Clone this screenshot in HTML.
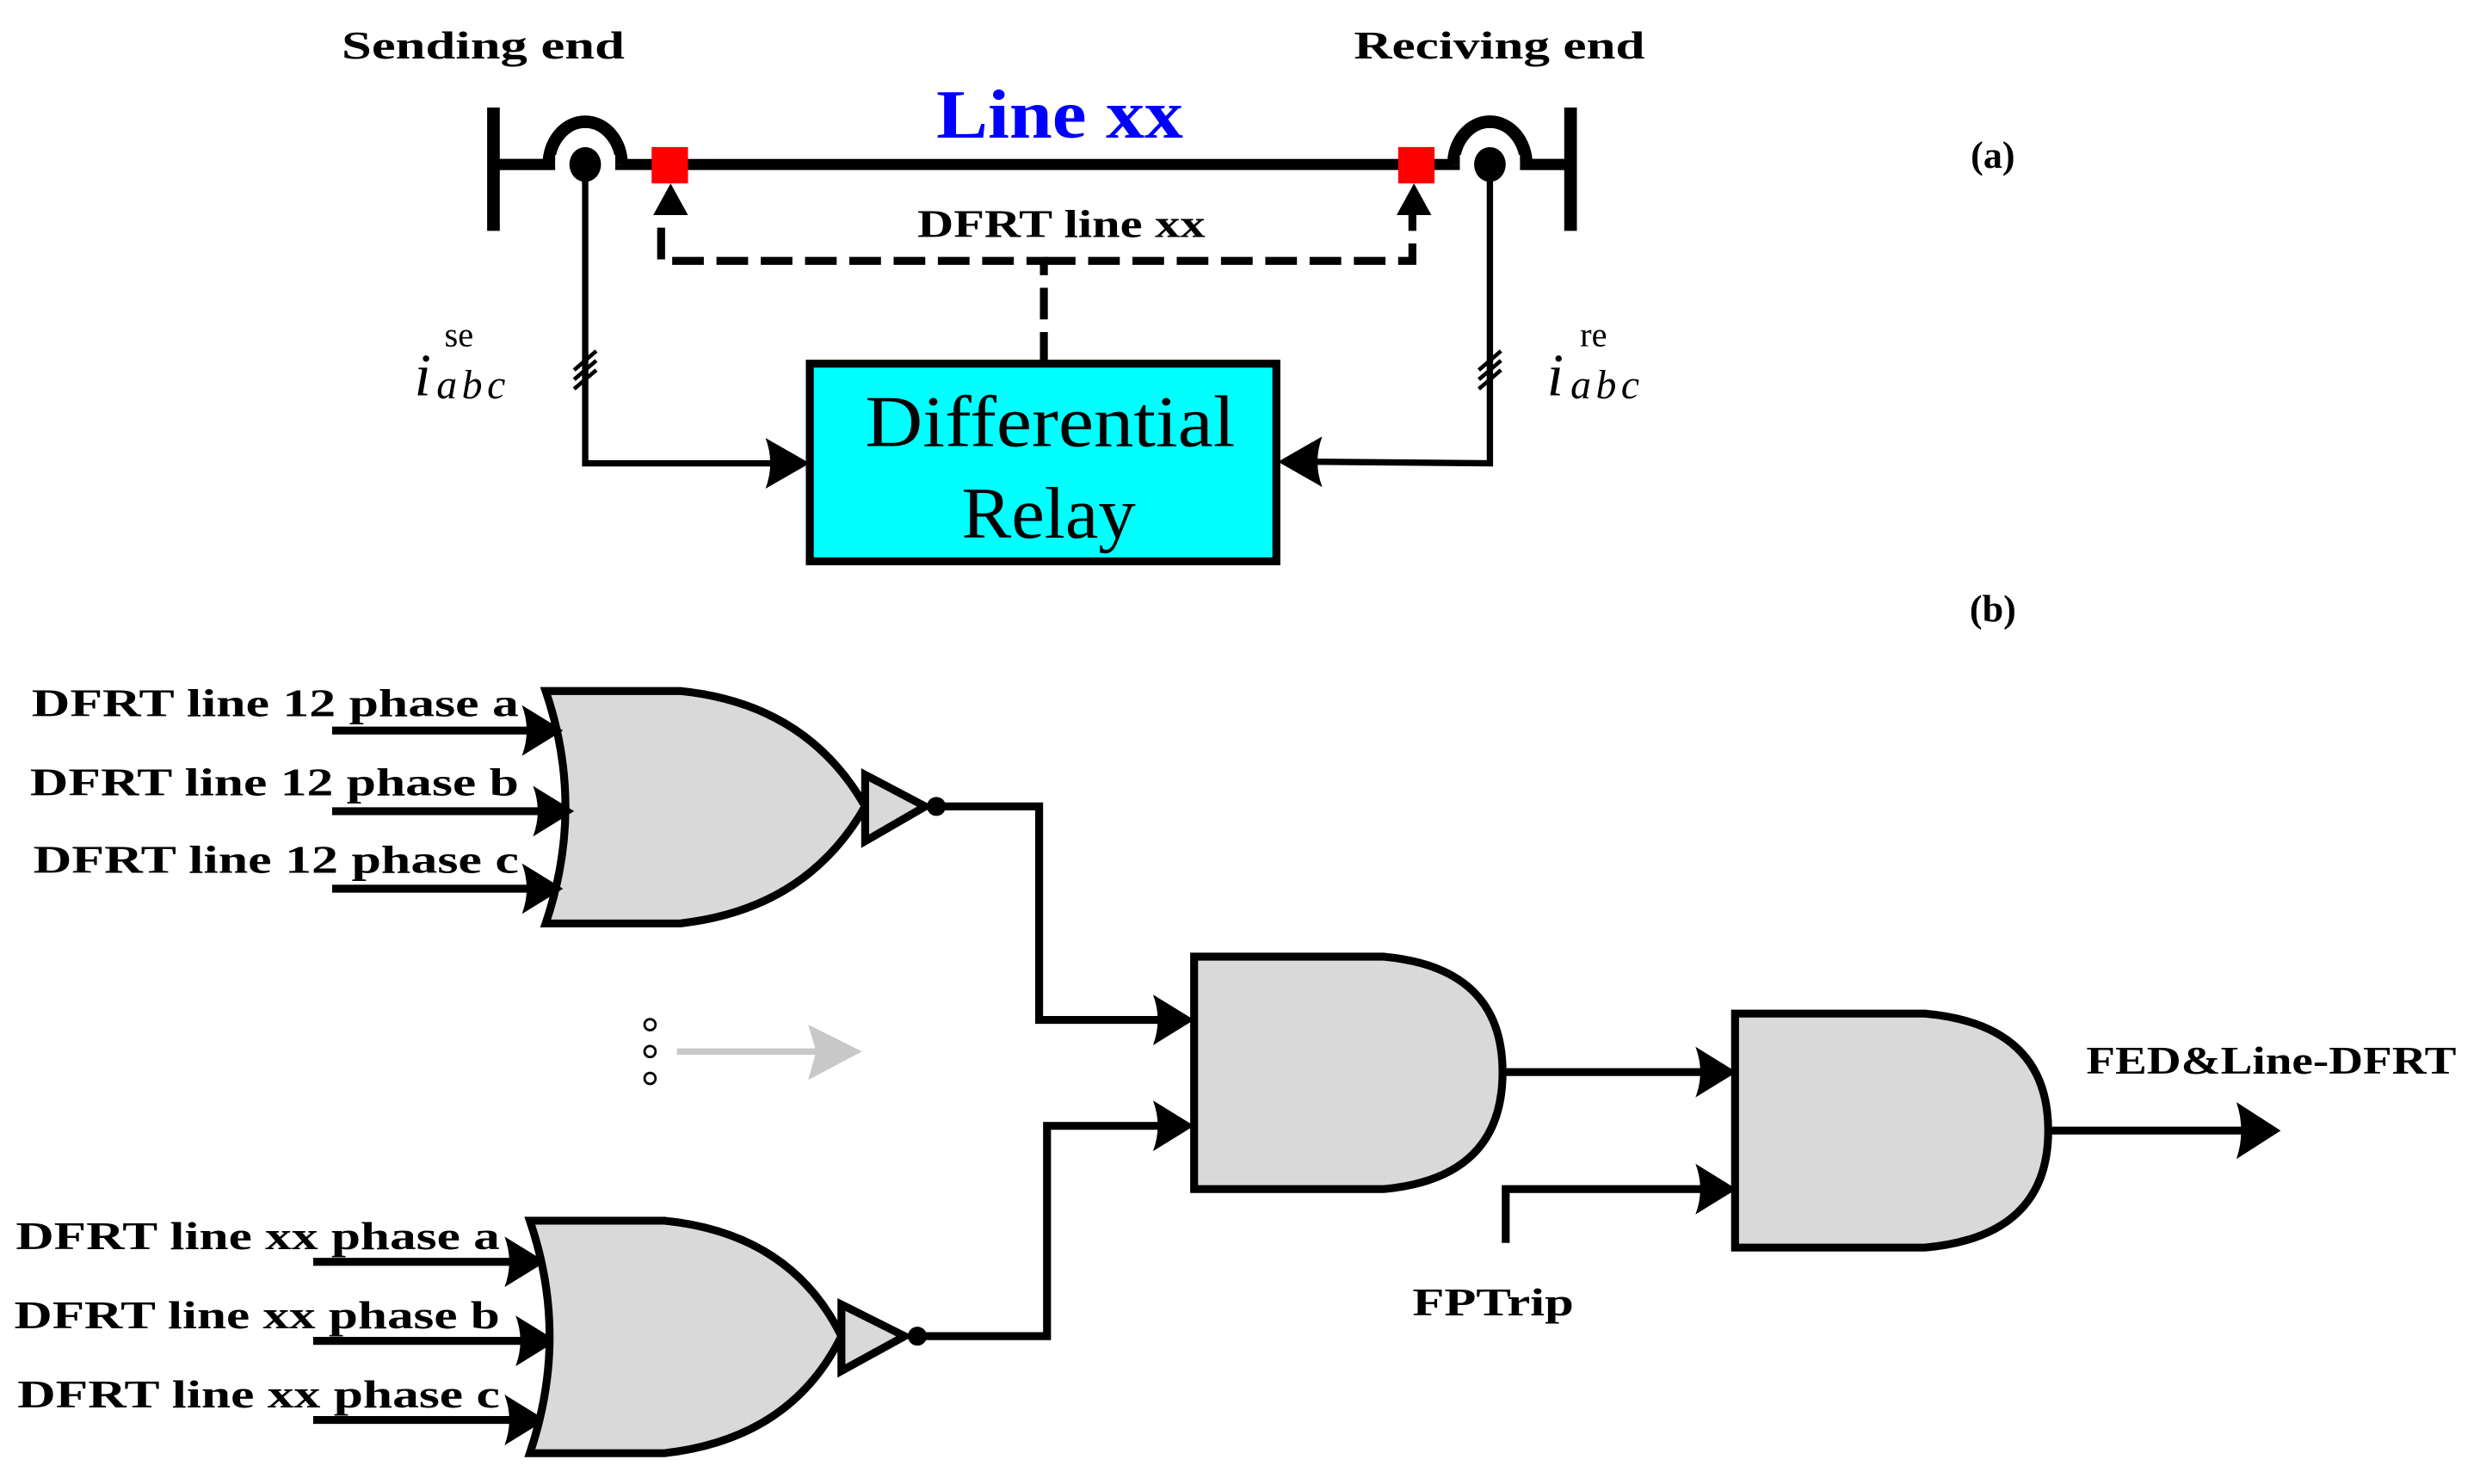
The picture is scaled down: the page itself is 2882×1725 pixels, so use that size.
<!DOCTYPE html>
<html><head><meta charset="utf-8"><style>
html,body{margin:0;padding:0;background:#fff;}
svg{display:block}
text{font-family:"Liberation Serif",serif;fill:#000}
.b{font-weight:bold}
.n{font-weight:normal}
</style></head><body>
<svg width="2882" height="1725" viewBox="0 0 1568 938.5" preserveAspectRatio="none" xmlns="http://www.w3.org/2000/svg">
<!-- (a) -->
<text class="b" x="216" y="37" font-size="25" textLength="179" lengthAdjust="spacingAndGlyphs">Sending end</text>
<text class="b" x="856" y="37" font-size="25" textLength="184" lengthAdjust="spacingAndGlyphs">Reciving end</text>
<text class="b" x="592" y="87" font-size="44" style="fill:#0000ff" textLength="156" lengthAdjust="spacingAndGlyphs">Line xx</text>
<text class="b" x="1260" y="106" font-size="24" text-anchor="middle">(a)</text>
<text class="b" x="1260" y="393" font-size="24" text-anchor="middle">(b)</text>
<!-- bus bars -->
<rect x="308" y="68" width="8" height="78"/>
<rect x="989" y="68" width="8" height="78"/>
<line x1="312" y1="104" x2="993" y2="104" stroke="#000" stroke-width="7"/>
<!-- CT humps -->
<path d="M347,104 A23,27 0 0 1 393,104" fill="#fff" stroke="#000" stroke-width="8"/>
<path d="M919,104 A23,27 0 0 1 965,104" fill="#fff" stroke="#000" stroke-width="8"/>
<rect x="351" y="98" width="38" height="14" fill="#fff"/>
<rect x="923" y="98" width="38" height="14" fill="#fff"/>
<line x1="312" y1="104" x2="350" y2="104" stroke="#000" stroke-width="7"/>
<line x1="962" y1="104" x2="993" y2="104" stroke="#000" stroke-width="7"/>
<ellipse cx="370" cy="104" rx="10" ry="11"/>
<ellipse cx="942" cy="104" rx="10" ry="11"/>
<rect x="412" y="93" width="23" height="23" fill="#ff0000"/>
<rect x="884" y="93" width="23" height="23" fill="#ff0000"/>
<!-- current wires -->
<polyline points="370,110 370,293 490,293" fill="none" stroke="#000" stroke-width="4"/>
<path d="M512,293 L484,277 Q490,293 484,309 Z"/>
<polyline points="942,110 942,293 830,292" fill="none" stroke="#000" stroke-width="4"/>
<path d="M808,292 L836,276 Q830,292 836,308 Z"/>
<!-- hash marks -->
<g stroke="#000" stroke-width="2.5">
<line x1="363" y1="234" x2="377" y2="222"/><line x1="363" y1="240" x2="377" y2="228"/><line x1="363" y1="246" x2="377" y2="234"/>
<line x1="935" y1="234" x2="949" y2="222"/><line x1="935" y1="240" x2="949" y2="228"/><line x1="935" y1="246" x2="949" y2="234"/>
</g>
<text class="n" x="262" y="250" font-size="38" font-style="italic">i</text>
<text class="n" x="281" y="219" font-size="22">se</text>
<text class="n" x="276" y="252" font-size="26" font-style="italic" letter-spacing="3">abc</text>
<text class="n" x="978" y="250" font-size="38" font-style="italic">i</text>
<text class="n" x="999" y="219" font-size="22">re</text>
<text class="n" x="993" y="252" font-size="26" font-style="italic" letter-spacing="3">abc</text>
<!-- dashed -->
<polyline points="660,230 660,165 418,165 418,135" fill="none" stroke="#000" stroke-width="5" stroke-dasharray="20,8"/>
<polyline points="660,165 893,165 893,135" fill="none" stroke="#000" stroke-width="5" stroke-dasharray="20,8"/>
<path d="M424,116 L413,136 L435,136 Z"/>
<path d="M894,116 L883,136 L905,136 Z"/>
<text class="b" x="580" y="150" font-size="25" textLength="182" lengthAdjust="spacingAndGlyphs">DFRT line xx</text>
<!-- relay box -->
<rect x="512" y="230" width="295" height="125" fill="#00ffff" stroke="#000" stroke-width="5"/>
<text class="n" x="547" y="282" font-size="46" textLength="234" lengthAdjust="spacingAndGlyphs">Differential</text>
<text class="n" x="608" y="340" font-size="46" textLength="110" lengthAdjust="spacingAndGlyphs">Relay</text>

<!-- (b) -->
<g font-size="25" class="b">
<text class="b" x="20" y="453" textLength="308" lengthAdjust="spacingAndGlyphs">DFRT line 12 phase a</text>
<text class="b" x="19" y="503" textLength="309" lengthAdjust="spacingAndGlyphs">DFRT line 12 phase b</text>
<text class="b" x="21" y="552" textLength="307" lengthAdjust="spacingAndGlyphs">DFRT line 12 phase c</text>
<text class="b" x="10" y="790" textLength="306" lengthAdjust="spacingAndGlyphs">DFRT line xx phase a</text>
<text class="b" x="9" y="840" textLength="307" lengthAdjust="spacingAndGlyphs">DFRT line xx phase b</text>
<text class="b" x="11" y="890" textLength="305" lengthAdjust="spacingAndGlyphs">DFRT line xx phase c</text>
</g>
<!-- OR gate 1 -->
<path d="M345,437 L430,437 Q510,445 547,510 Q510,575 430,584 L345,584 Q370,510 345,437 Z" fill="#d9d9d9" stroke="#000" stroke-width="5"/>
<path d="M547,490 L585,510 L547,532 Z" fill="#d9d9d9" stroke="#000" stroke-width="5"/>
<circle cx="592" cy="510" r="6"/>
<g stroke="#000" stroke-width="5">
<line x1="210" y1="462" x2="340" y2="462"/><line x1="210" y1="513" x2="345" y2="513"/><line x1="210" y1="562" x2="340" y2="562"/>
<line x1="198" y1="798" x2="330" y2="798"/><line x1="198" y1="848" x2="335" y2="848"/><line x1="198" y1="898" x2="330" y2="898"/>
</g>
<g>
<path d="M356,462 L330,446 Q336,462 330,478 Z"/>
<path d="M363,513 L337,497 Q343,513 337,529 Z"/>
<path d="M356,562 L330,546 Q336,562 330,578 Z"/>
<path d="M345,798 L319,782 Q325,798 319,814 Z"/>
<path d="M352,848 L326,832 Q332,848 326,864 Z"/>
<path d="M345,898 L319,882 Q325,898 319,914 Z"/>
</g>
<!-- OR gate 2 -->
<path d="M335,772 L420,772 Q500,780 532,845 Q500,910 420,919 L335,919 Q360,845 335,772 Z" fill="#d9d9d9" stroke="#000" stroke-width="5"/>
<path d="M532,825 L572,845 L532,867 Z" fill="#d9d9d9" stroke="#000" stroke-width="5"/>
<circle cx="580" cy="845" r="6"/>
<!-- connections -->
<polyline points="592,510 657,510 657,645 735,645" fill="none" stroke="#000" stroke-width="5"/>
<path d="M755,645 L729,629 Q735,645 729,661 Z"/>
<polyline points="580,845 662,845 662,712 735,712" fill="none" stroke="#000" stroke-width="5"/>
<path d="M755,712 L729,696 Q735,712 729,728 Z"/>
<!-- dots and gray arrow -->
<circle cx="411" cy="648" r="3.5" fill="#fff" stroke="#000" stroke-width="1.5"/>
<circle cx="411" cy="665" r="3.5" fill="#fff" stroke="#000" stroke-width="1.5"/>
<circle cx="411" cy="682" r="3.5" fill="#fff" stroke="#000" stroke-width="1.5"/>
<line x1="428" y1="665" x2="520" y2="665" stroke="#c8c8c8" stroke-width="4"/>
<path d="M545,665 L511,648 L516,665 L511,683 Z" fill="#c8c8c8"/>
<!-- AND 1 -->
<path d="M755,605 L875,605 Q950,612 950,678 Q950,745 875,752 L755,752 Z" fill="#d9d9d9" stroke="#000" stroke-width="5"/>
<line x1="950" y1="678" x2="1078" y2="678" stroke="#000" stroke-width="5"/>
<path d="M1098,678 L1072,662 Q1078,678 1072,694 Z"/>
<!-- AND 2 -->
<path d="M1097,641 L1217,641 Q1295,648 1295,715 Q1295,782 1217,789 L1097,789 Z" fill="#d9d9d9" stroke="#000" stroke-width="5"/>
<polyline points="952,786 952,752 1078,752" fill="none" stroke="#000" stroke-width="5"/>
<path d="M1098,752 L1072,736 Q1078,752 1072,768 Z"/>
<line x1="1295" y1="715" x2="1420" y2="715" stroke="#000" stroke-width="5"/>
<path d="M1442,715 L1414,697 Q1420,715 1414,733 Z"/>
<text class="b" x="893" y="832" font-size="25" textLength="102" lengthAdjust="spacingAndGlyphs">FPTrip</text>
<text class="b" x="1319" y="679" font-size="25" textLength="234" lengthAdjust="spacingAndGlyphs">FED&amp;Line-DFRT</text>
</svg>
</body></html>
